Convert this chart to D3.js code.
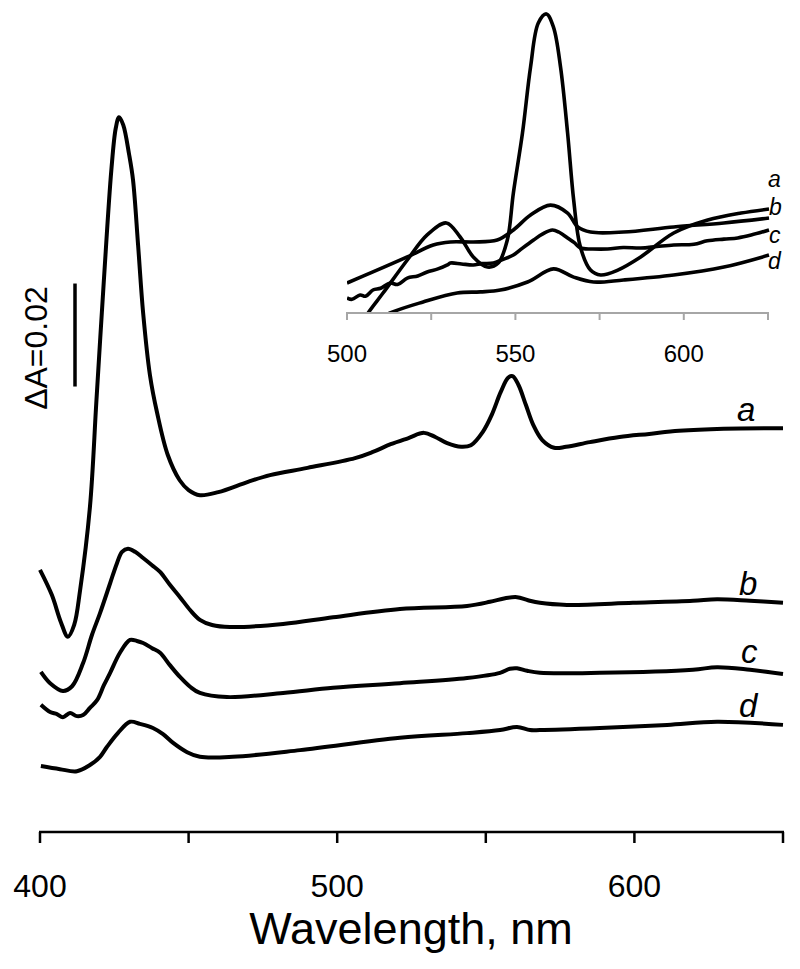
<!DOCTYPE html>
<html><head><meta charset="utf-8">
<script src="https://cdn.jsdelivr.net/npm/d3@7"></script>
<style>body{margin:0;background:#fff}svg{display:block}text{font-family:"Liberation Sans",Arial,sans-serif}</style>
</head><body><svg id="c" width="800" height="969"></svg>
<script>
// ---- Main chart data (wavelength nm, ΔA) ----
const wlA=[400,404,407,409.4,411.5,413.5,416.8,419,421.5,424,425.5,426.6,428,430,431.3,433,434.7,437,439.4,443,447,450,453.8,460,470,477.4,490,506,512,518,524,529.2,533,537,541.7,545,549,552,555,557.5,559,561,563.5,566,569,573,577,585,595,605,615,630,650];
const valA=[0.0509,0.0460,0.0408,0.0379,0.0402,0.0470,0.0631,0.0839,0.1072,0.1285,0.1367,0.1388,0.1373,0.1315,0.1266,0.1140,0.1008,0.0887,0.0814,0.0732,0.0683,0.0664,0.0654,0.0660,0.0680,0.0693,0.0707,0.0726,0.0738,0.0753,0.0765,0.0775,0.0767,0.0755,0.0748,0.0751,0.0777,0.0810,0.0854,0.0882,0.0885,0.0868,0.0829,0.0790,0.0761,0.0746,0.0748,0.0757,0.0767,0.0773,0.0779,0.0783,0.0784];
const wlB=[400.3,403.4,407.7,410.8,414.5,417.5,420.2,423.6,425.9,427.6,429.6,432,434.7,437.7,440.4,443.7,447.1,450.5,453.8,457.9,463.9,481.8,498.6,521.1,543.7,551.4,556.5,560.5,564.2,568.2,577.3,599.5,619.7,627.8,638.9,650];
const valB=[0.0311,0.0289,0.0274,0.0283,0.0328,0.0383,0.0425,0.0483,0.0522,0.0544,0.0550,0.0544,0.0532,0.0518,0.0505,0.0480,0.0456,0.0431,0.0412,0.0402,0.0398,0.0404,0.0417,0.0433,0.0439,0.0447,0.0454,0.0456,0.0450,0.0445,0.0441,0.0445,0.0449,0.0452,0.0449,0.0445];
const wlC=[400.3,403.4,405.7,407.7,410.1,412.4,414.5,416.8,419.2,421.5,423.6,426.9,430.3,432.6,434.7,437.7,440.4,443.7,447.1,450.5,453.8,462.9,481.8,498.6,521.1,543.7,554.8,558.1,560.5,563.9,568.2,588.4,619.7,627.8,638.9,650];
const valC=[0.0247,0.0233,0.0229,0.0223,0.0231,0.0225,0.0227,0.0241,0.0256,0.0285,0.0309,0.0348,0.0373,0.0371,0.0367,0.0357,0.0348,0.0324,0.0301,0.0282,0.0270,0.0262,0.0270,0.0280,0.0289,0.0299,0.0309,0.0317,0.0318,0.0313,0.0309,0.0309,0.0315,0.0320,0.0315,0.0307];
const wlD=[400.3,406.7,412.4,416.8,420.2,422.5,426.2,430.3,433.6,438,441.4,444.8,449.5,453.8,464.9,487.5,521.1,543.7,554.8,560.5,564.9,568.2,588.4,611,627.8,650];
const valD=[0.0128,0.0122,0.0118,0.0130,0.0146,0.0165,0.0192,0.0214,0.0210,0.0202,0.0190,0.0173,0.0155,0.0146,0.0146,0.0159,0.0183,0.0192,0.0198,0.0204,0.0198,0.0198,0.0202,0.0208,0.0214,0.0208];
const mainTicks=[400,450,500,550,600,650];
const mainTickLabels=[400,500,600];
const scaleBar=[0.0865,0.1065]; // ΔA = 0.02

// ---- Inset data (wavelength nm, arbitrary magnified units) ----
const iwlA=[504,505.9,510.7,517.9,523.8,529.5,533.6,537.5,541.7,544.9,547.6,549.4,552.1,554.5,556.8,559.2,561.3,563.4,565.5,567.3,569.3,572.3,575.3,580.4,587.2,597,607.1,617,625.3];
const ivA=[-0.8,-0.1,1.05,2.79,4.11,4.74,4.0,2.95,2.42,2.63,3.84,6.32,9.47,12.95,15.26,15.74,15.05,12.95,9.47,5.95,3.47,2.26,2.0,2.26,2.95,4.21,4.89,5.26,5.47];
const iwlB=[500,507.7,517.9,525.6,530.7,537.5,544.6,549.4,554.5,560.4,565.5,568.5,572.3,582.1,597,611.9,625.3];
const ivB=[1.58,2.16,2.95,3.58,3.74,3.74,3.84,4.37,5.16,5.68,5.26,4.53,4.26,4.26,4.53,4.74,5.0];
const iwlC=[500,501.5,503.9,505.5,507.7,510,512.8,515,517.9,521,523.8,527,529.8,530.7,534,537.5,540,543.5,546,549.4,552,555.4,558,561,563,565.5,567.5,569.3,573,577.4,582,587.2,592,597,603,607,611.9,616,620,625.3];
const ivC=[0.79,0.72,0.95,0.88,1.21,1.30,1.58,1.50,1.84,1.95,2.16,2.32,2.53,2.63,2.58,2.53,2.60,2.63,2.80,3.05,3.40,3.84,4.15,4.37,4.25,3.95,3.70,3.42,3.37,3.37,3.45,3.42,3.50,3.58,3.62,3.80,3.89,3.95,4.10,4.37];
const iwlD=[508,512.8,522.6,532.7,539.6,545.5,553.6,561.3,567.3,573.2,582.1,597,611.9,625.3];
const ivD=[-0.5,0,0.58,1.05,1.11,1.21,1.63,2.32,1.89,1.63,1.74,2.0,2.42,3.05];
const insetTicks=[500,525,550,575,600,625];
const insetTickLabels=[500,550,600];

const svg=d3.select("#c");
// main scales
const x=d3.scaleLinear().domain([400,650]).range([40,783]);
const y=d3.scaleLinear().domain([0,0.16]).range([832,8]);
const line=d3.line().x(d=>x(d[0])).y(d=>y(d[1])).curve(d3.curveCatmullRom.alpha(0.5));
const zip=(a,b)=>a.map((v,i)=>[v,b[i]]);
const mainSeries=[[wlA,valA],[wlB,valB],[wlC,valC],[wlD,valD]];
svg.append("g").selectAll("path").data(mainSeries).join("path")
  .attr("d",s=>line(zip(s[0],s[1]))).attr("fill","none").attr("stroke","#000")
  .attr("stroke-width",4).attr("stroke-linejoin","round").attr("stroke-linecap","butt");

// main axis
const gx=svg.append("g").attr("transform","translate(0,832)");
gx.append("line").attr("x1",x(400)-1).attr("x2",x(650)+1).attr("stroke","#000").attr("stroke-width",2.5);
gx.selectAll(".t").data(mainTicks).join("line").attr("x1",d=>x(d)).attr("x2",d=>x(d)).attr("y1",0).attr("y2",11).attr("stroke","#000").attr("stroke-width",2.5);
gx.selectAll(".l").data(mainTickLabels).join("text").attr("x",d=>x(d)).attr("y",65).attr("text-anchor","middle").attr("font-size",32).text(d=>d);
svg.append("text").attr("x",411).attr("y",944).attr("text-anchor","middle").attr("font-size",45).text("Wavelength, nm");

// scale bar
svg.append("line").attr("x1",75).attr("x2",75).attr("y1",y(scaleBar[0])).attr("y2",y(scaleBar[1])).attr("stroke","#000").attr("stroke-width",3.5);
svg.append("text").attr("transform","translate(47,348) rotate(-90)").attr("text-anchor","middle").attr("font-size",32).text("ΔA=0.02");

// main labels
const mainLabels=[["a",737,421],["b",739,595],["c",741,663],["d",739,717]];
svg.selectAll(".ml").data(mainLabels).join("text").attr("x",d=>d[1]).attr("y",d=>d[2]).attr("font-size",33).attr("font-style","italic").text(d=>d[0]);

// inset
const ix=d3.scaleLinear().domain([500,625]).range([347,768]);
const iy=d3.scaleLinear().domain([0,16]).range([313,9]);
svg.append("clipPath").attr("id","ic").append("rect").attr("x",ix(500)).attr("y",0).attr("width",ix(625)-ix(500)+2).attr("height",313);
const iline=d3.line().x(d=>ix(d[0])).y(d=>iy(d[1])).curve(d3.curveCatmullRom.alpha(0.5));
const insetSeries=[[iwlA,ivA],[iwlB,ivB],[iwlC,ivC],[iwlD,ivD]];
svg.append("g").attr("clip-path","url(#ic)").selectAll("path").data(insetSeries).join("path")
  .attr("d",s=>iline(zip(s[0],s[1]))).attr("fill","none").attr("stroke","#000")
  .attr("stroke-width",3.6).attr("stroke-linejoin","round");
const ig=svg.append("g").attr("transform","translate(0,313)");
ig.append("line").attr("x1",ix(500)-1).attr("x2",ix(625)+1).attr("stroke","#a6a6a6").attr("stroke-width",2);
ig.selectAll(".t").data(insetTicks).join("line").attr("x1",d=>ix(d)).attr("x2",d=>ix(d)).attr("y1",0).attr("y2",7).attr("stroke","#a6a6a6").attr("stroke-width",2);
ig.selectAll(".l").data(insetTickLabels).join("text").attr("x",d=>ix(d)).attr("y",49).attr("text-anchor","middle").attr("font-size",24).text(d=>d);
const insetLabels=[["a",768,187],["b",769,215],["c",769,243],["d",768,269]];
svg.selectAll(".il").data(insetLabels).join("text").attr("x",d=>d[1]).attr("y",d=>d[2]).attr("font-size",23).attr("font-style","italic").text(d=>d[0]);
</script></body></html>
